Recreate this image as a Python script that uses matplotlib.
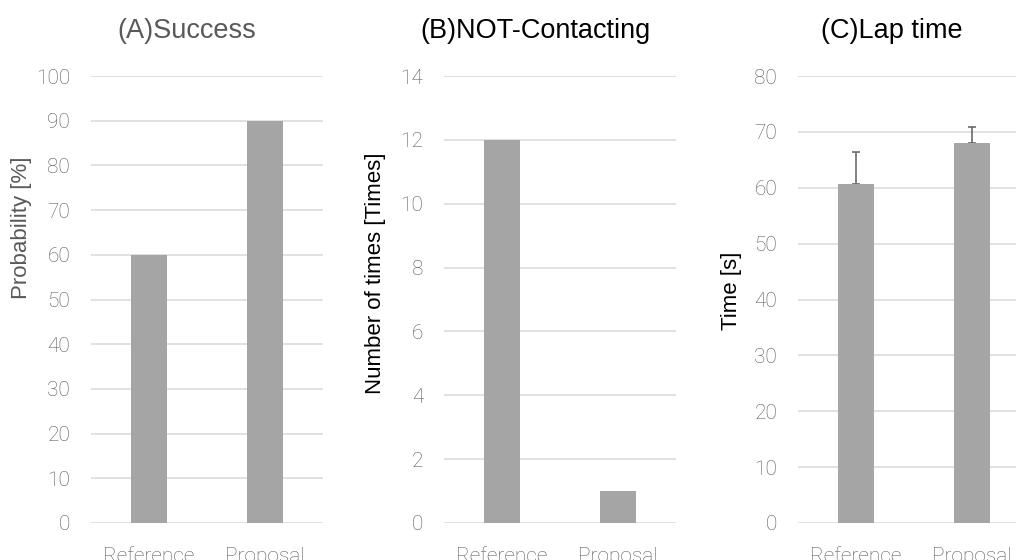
import matplotlib
matplotlib.use("Agg")
import matplotlib.pyplot as plt

# Data
categories = ["Reference", "Proposal"]
success_rate = [60, 90]            # (A) success probability [%]
contact_count = [12, 1]            # (B) number of contacts
lap_time = [60.7, 68.0]            # (C) mean lap time [s]
lap_time_err_up = [5.7, 2.9]       # (C) upper error [s]

BAR_COLOR = "#A5A5A5"
GRID_COLOR = "#D9D9D9"
TICK_COLOR = "#595959"
TITLE_FONT = ["Liberation Sans", "DejaVu Sans"]
TICK_FONT = ["Roboto", "DejaVu Sans"]

W, H = 1016, 560
fig = plt.figure(figsize=(W / 100, H / 100), dpi=100)

bottom = 1 - 523 / H
height = 447 / H
width = 232 / W


def make_axes(left_px, values, ymax, ystep, ylabel, title, title_x, label_xy,
              text_color, yerr=None):
    ax = fig.add_axes([left_px / W, bottom, width, height])
    x = range(len(categories))
    ax.bar(x, values, width=0.31, color=BAR_COLOR, zorder=3)
    if yerr is not None:
        # drawn beneath the bars so only the upper whisker shows
        ax.errorbar(x, values, yerr=[[0] * len(values), yerr], fmt="none",
                    ecolor="#5F5F5F", elinewidth=1.1, capsize=2.9,
                    capthick=1.1, zorder=2)
    ax.set_xlim(-0.5, len(categories) - 0.5)
    ax.set_ylim(0, ymax)
    ax.set_yticks(range(0, ymax + 1, ystep))
    ax.set_xticks(list(x))
    ax.set_xticklabels(categories)
    for s in ax.spines.values():
        s.set_visible(False)
    ax.yaxis.grid(True, color=GRID_COLOR, linewidth=1.1, zorder=0)
    ax.set_axisbelow(True)
    ax.tick_params(axis="y", length=0, pad=15, labelsize=15,
                   labelcolor=TICK_COLOR)
    ax.tick_params(axis="x", length=0, pad=17, labelsize=15,
                   labelcolor=TICK_COLOR)
    for lbl in ax.get_xticklabels() + ax.get_yticklabels():
        lbl.set_fontfamily(TICK_FONT)
        lbl.set_fontweight("light")
    fig.text(title_x / W, 1 - 31 / H, title, ha="center", va="center",
             fontsize=19.5, color=text_color, family=TITLE_FONT)
    fig.text(label_xy[0] / W, 1 - label_xy[1] / H, ylabel, rotation=90,
             ha="center", va="center", fontsize=16, color=text_color,
             family=TITLE_FONT)
    return ax


make_axes(91, success_rate, 100, 10, "Probability [%]", "(A)Success",
          187, (22, 228), TICK_COLOR)
make_axes(444, contact_count, 14, 2, "Number of times [Times]",
          "(B)NOT-Contacting", 536, (376, 273), "black")
make_axes(798, lap_time, 80, 10, "Time [s]", "(C)Lap time",
          892, (731, 291), "black", yerr=lap_time_err_up)

fig.savefig("out.png", dpi=100)
